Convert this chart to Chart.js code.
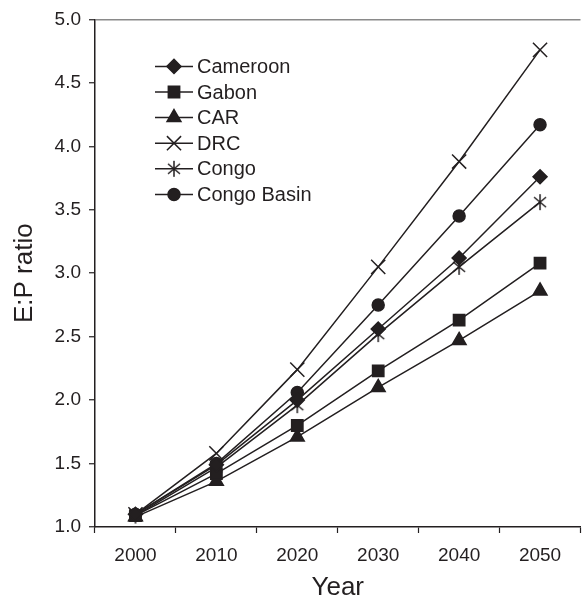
<!DOCTYPE html>
<html>
<head>
<meta charset="utf-8">
<script src="https://cdn.jsdelivr.net/npm/chart.js@4/dist/chart.umd.min.js"></script>
<style>
  html, body { margin: 0; padding: 0; background: #fff; overflow: hidden; }
  #wrap { width: 592px; height: 601px; }
</style>
</head>
<body>
<div id="wrap"><canvas id="myChart" width="592" height="601"></canvas></div>
<script>
const years = ['2000', '2010', '2020', '2030', '2040', '2050'];

const cameroon   = [1.10, 1.49, 2.00, 2.56, 3.12, 3.76];
const gabon      = [1.09, 1.42, 1.80, 2.23, 2.63, 3.08];
const car        = [1.08, 1.36, 1.71, 2.10, 2.47, 2.86];
const drc        = [1.10, 1.58, 2.24, 3.05, 3.88, 4.76];
const congo      = [1.09, 1.47, 1.96, 2.52, 3.05, 3.56];
const congoBasin = [1.10, 1.50, 2.06, 2.75, 3.45, 4.17];

const ink = '#231f20';

// six-armed asterisk for Congo
const asterisk = document.createElement('canvas');
asterisk.width = 18;
asterisk.height = 18;
(function () {
    const c = asterisk.getContext('2d');
    c.strokeStyle = ink;
    c.lineWidth = 1.5;
    c.beginPath();
    c.moveTo(3, 4); c.lineTo(15, 14);
    c.moveTo(15, 4); c.lineTo(3, 14);
    c.moveTo(9, 1); c.lineTo(9, 17);
    c.stroke();
})();

function series(label, values, style, radius) {
    return {
        label: label,
        data: values,
        borderColor: ink,
        backgroundColor: ink,
        borderWidth: 1.5,
        pointStyle: style,
        pointRadius: radius,
        pointHoverRadius: radius,
        pointBorderWidth: 1.5,
        pointBackgroundColor: ink,
        pointBorderColor: ink,
        tension: 0
    };
}

const data = {
    labels: years,
    datasets: [
        series('Cameroon', cameroon, 'rectRot', 7),
        series('Gabon', gabon, 'rect', 8),
        series('CAR', car, 'triangle', 8),
        series('DRC', drc, 'crossRot', 10),
        series('Congo', congo, asterisk, 9),
        series('Congo Basin', congoBasin, 'circle', 6)
    ]
};

// legend drawn inside the plot, line through each marker
const innerLegend = {
    id: 'innerLegend',
    afterDraw(chart) {
        const ctx = chart.ctx;
        const area = chart.chartArea;
        const x0 = area.left + 60;
        const y0 = area.top + 47;
        const step = 25.6;
        ctx.save();
        ctx.font = '20px "Liberation Sans", Arial, sans-serif';
        ctx.textBaseline = 'middle';
        chart.data.datasets.forEach((ds, i) => {
            const y = y0 + i * step;
            ctx.strokeStyle = ink;
            ctx.fillStyle = ink;
            ctx.lineWidth = 1.5;
            ctx.beginPath();
            ctx.moveTo(x0, y);
            ctx.lineTo(x0 + 38, y);
            ctx.stroke();
            Chart.helpers.drawPoint(ctx, {
                pointStyle: ds.pointStyle,
                radius: ds.pointRadius,
                rotation: 0,
                borderWidth: 1.5
            }, x0 + 19, y);
            ctx.fillStyle = ink;
            ctx.fillText(ds.label, x0 + 42, y + 1);
        });
        ctx.restore();
    }
};

const config = {
    type: 'line',
    data: data,
    plugins: [innerLegend],
    options: {
        responsive: false,
        animation: false,
        layout: {
            padding: { top: 17, right: 5, left: 0, bottom: 0 }
        },
        plugins: {
            legend: { display: false },
            tooltip: { enabled: false }
        },
        scales: {
            x: {
                offset: true,
                afterFit: s => { s.height = 74; },
                grid: {
                    offset: true,
                    drawOnChartArea: false,
                    tickLength: 6,
                    tickColor: ink,
                    tickWidth: 1.2
                },
                border: { color: ink, width: 1.5 },
                ticks: {
                    color: ink,
                    padding: 11,
                    font: { family: '"Liberation Sans", Arial, sans-serif', size: 19 }
                },
                title: {
                    display: true,
                    text: 'Year',
                    color: ink,
                    padding: 0,
                    font: { family: '"Liberation Sans", Arial, sans-serif', size: 26, lineHeight: 1 }
                }
            },
            y: {
                min: 1.0,
                max: 5.0,
                afterFit: s => { s.width = 95; },
                grid: {
                    color: c => (c.tick && c.tick.value === 5 ? '#8a8a8a' : 'rgba(0,0,0,0)'),
                    lineWidth: 1.5,
                    tickLength: 6,
                    tickColor: ink,
                    tickWidth: 1.2
                },
                border: { color: ink, width: 1.5 },
                ticks: {
                    stepSize: 0.5,
                    color: ink,
                    padding: 8,
                    font: { family: '"Liberation Sans", Arial, sans-serif', size: 19 },
                    callback: v => v.toFixed(1)
                },
                title: {
                    display: true,
                    text: 'E:P ratio',
                    color: ink,
                    padding: { top: 9, bottom: 0 },
                    font: { family: '"Liberation Sans", Arial, sans-serif', size: 26 }
                }
            }
        }
    }
};

const myChart = new Chart(document.getElementById('myChart'), config);
</script>
</body>
</html>
